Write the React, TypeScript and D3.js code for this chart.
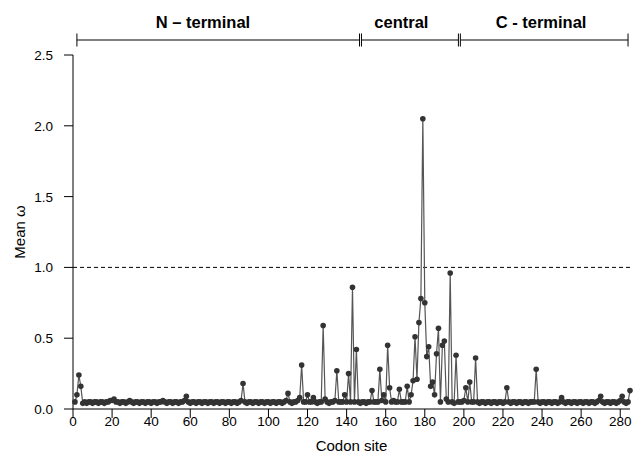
import React from "react";
import * as d3 from "d3";

const width = 634;
const height = 468;
const margin = { top: 55, right: 4, bottom: 59, left: 73 };

// mean omega per codon site (sites 1..285)
const omega = [
  0.05, 0.10, 0.24, 0.16, 0.04, 0.05, 0.04, 0.05, 0.05, 0.04, 0.05, 0.05, 0.04, 0.05, 0.05, 0.04, 0.05, 0.05, 0.06, 0.06,
  0.07, 0.05, 0.05, 0.04, 0.05, 0.05, 0.04, 0.05, 0.06, 0.05, 0.04, 0.05, 0.05, 0.04, 0.05, 0.05, 0.04, 0.05, 0.05, 0.04,
  0.05, 0.05, 0.04, 0.05, 0.05, 0.06, 0.05, 0.04, 0.05, 0.05, 0.04, 0.05, 0.05, 0.04, 0.05, 0.05, 0.06, 0.09, 0.05, 0.04,
  0.05, 0.05, 0.04, 0.05, 0.05, 0.04, 0.05, 0.05, 0.04, 0.05, 0.05, 0.04, 0.05, 0.05, 0.04, 0.05, 0.05, 0.04, 0.05, 0.05,
  0.04, 0.05, 0.05, 0.04, 0.05, 0.06, 0.18, 0.05, 0.04, 0.05, 0.05, 0.04, 0.05, 0.05, 0.04, 0.05, 0.05, 0.04, 0.05, 0.05,
  0.04, 0.05, 0.05, 0.04, 0.05, 0.05, 0.04, 0.05, 0.06, 0.11, 0.05, 0.04, 0.05, 0.05, 0.06, 0.08, 0.31, 0.05, 0.05, 0.10,
  0.05, 0.05, 0.08, 0.05, 0.04, 0.05, 0.05, 0.59, 0.07, 0.05, 0.04, 0.05, 0.05, 0.06, 0.27, 0.05, 0.05, 0.05, 0.10, 0.05,
  0.25, 0.05, 0.86, 0.05, 0.42, 0.05, 0.04, 0.05, 0.05, 0.04, 0.05, 0.05, 0.13, 0.05, 0.05, 0.05, 0.28, 0.06, 0.10, 0.05,
  0.45, 0.15, 0.05, 0.06, 0.05, 0.05, 0.14, 0.05, 0.05, 0.05, 0.16, 0.05, 0.10, 0.20, 0.51, 0.21, 0.61, 0.78, 2.05, 0.75,
  0.37, 0.44, 0.16, 0.19, 0.10, 0.39, 0.57, 0.05, 0.45, 0.48, 0.07, 0.05, 0.96, 0.05, 0.04, 0.38, 0.05, 0.05, 0.05, 0.06,
  0.15, 0.05, 0.19, 0.05, 0.05, 0.36, 0.05, 0.04, 0.05, 0.05, 0.04, 0.05, 0.05, 0.04, 0.05, 0.05, 0.04, 0.05, 0.05, 0.04,
  0.05, 0.15, 0.05, 0.04, 0.05, 0.05, 0.04, 0.05, 0.05, 0.04, 0.05, 0.05, 0.04, 0.05, 0.05, 0.05, 0.28, 0.05, 0.04, 0.05,
  0.05, 0.04, 0.05, 0.05, 0.04, 0.05, 0.05, 0.04, 0.05, 0.08, 0.05, 0.04, 0.05, 0.05, 0.04, 0.05, 0.05, 0.04, 0.05, 0.05,
  0.04, 0.05, 0.05, 0.04, 0.05, 0.05, 0.04, 0.05, 0.06, 0.09, 0.05, 0.04, 0.05, 0.05, 0.04, 0.05, 0.05, 0.04, 0.05, 0.06,
  0.09, 0.05, 0.04, 0.05, 0.13,
];

const xTicks = [0, 20, 40, 60, 80, 100, 120, 140, 160, 180, 200, 220, 240, 260, 280];
const yTicks = [0, 0.5, 1, 1.5, 2, 2.5];
const threshold = 1;

// protein regions along the top, in codon-site units
const regionNames = ["N \u2013 terminal", "central", "C - terminal"];
const regionStart = [2, 147.6, 198.2];
const regionEnd = [146.6, 197.2, 284];
const regionLabelAt = [66.5, 168, 239.5];

const font = "'Liberation Sans', Arial, Helvetica, sans-serif";

export default function App() {
  const x = d3.scaleLinear().domain([0, 285]).range([margin.left, width - margin.right]);
  const y = d3.scaleLinear().domain([0, 2.5]).range([height - margin.bottom, margin.top]);
  const y0 = y(0);

  const points = omega.map((v, i) => ({ site: i + 1, v }));
  const line = d3
    .line<{ site: number; v: number }>()
    .x((d) => x(d.site))
    .y((d) => y(d.v));

  const barY = 40;

  return (
    <svg
      width={width}
      height={height}
      style={{ position: "absolute", left: 0, top: 0, background: "#fff" }}
      fontFamily={font}
    >
      {/* region brackets */}
      {regionNames.map((name, i) => (
        <g key={name}>
          <line x1={x(regionStart[i])} x2={x(regionEnd[i])} y1={barY} y2={barY} stroke="#000" strokeWidth={1} />
          <line x1={x(regionStart[i])} x2={x(regionStart[i])} y1={barY - 6.5} y2={barY + 6.5} stroke="#000" />
          <line x1={x(regionEnd[i])} x2={x(regionEnd[i])} y1={barY - 6.5} y2={barY + 6.5} stroke="#000" />
          <text x={x(regionLabelAt[i])} y={barY - 12} textAnchor="middle" fontSize={16.5} fontWeight="bold">
            {name}
          </text>
        </g>
      ))}

      {/* axes */}
      <line x1={x(0)} x2={x(0)} y1={y(2.5)} y2={y0} stroke="#000" />
      <line x1={x(0)} x2={width - margin.right} y1={y0} y2={y0} stroke="#000" />
      {yTicks.map((t) => (
        <g key={"y" + t}>
          <line x1={x(0) - 9} x2={x(0)} y1={y(t)} y2={y(t)} stroke="#000" />
          <text x={x(0) - 20} y={y(t) + 5} textAnchor="end" fontSize={13.5}>
            {t.toFixed(1)}
          </text>
        </g>
      ))}
      {xTicks.map((t) => (
        <g key={"x" + t}>
          <line x1={x(t)} x2={x(t)} y1={y0} y2={y0 + 9} stroke="#000" />
          <text x={x(t)} y={y0 + 17} textAnchor="middle" fontSize={13.5}>
            {t}
          </text>
        </g>
      ))}
      <text x={(x(0) + width - margin.right) / 2} y={451} textAnchor="middle" fontSize={15}>
        Codon site
      </text>
      <text
        transform={`translate(25,${(y(0) + y(2.5)) / 2}) rotate(-90)`}
        textAnchor="middle"
        fontSize={15}
      >
        Mean ω
      </text>

      {/* omega = 1 reference */}
      <line
        x1={x(0)}
        x2={width - margin.right}
        y1={y(threshold)}
        y2={y(threshold)}
        stroke="#000"
        strokeDasharray="4,3"
      />

      <path d={line(points) ?? ""} fill="none" stroke="#555" strokeWidth={1.2} />
      {points.map((d) => (
        <circle key={d.site} cx={x(d.site)} cy={y(d.v)} r={2.8} fill="#333" />
      ))}
    </svg>
  );
}
